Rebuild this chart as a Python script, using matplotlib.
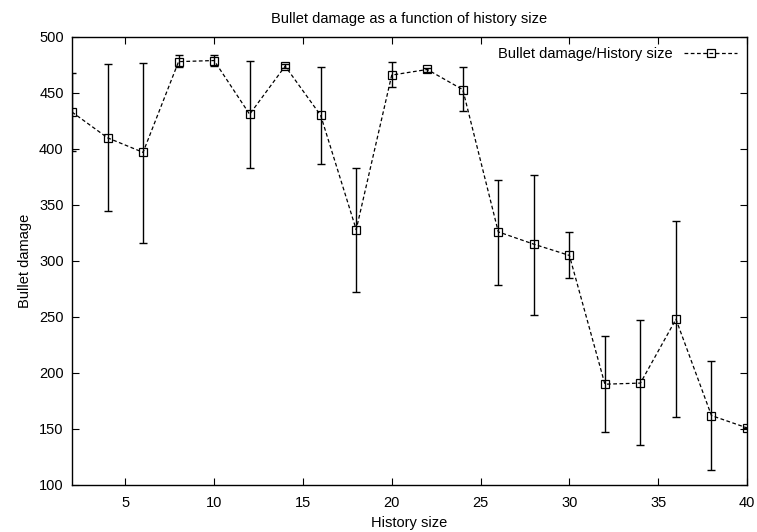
import numpy as np
import matplotlib.pyplot as plt

plt.rcParams['font.family'] = ['Liberation Sans', 'DejaVu Sans']

history_size = [2, 4, 6, 8, 10, 12, 14, 16, 18, 20, 22, 24, 26, 28, 30, 32, 34, 36, 38, 40]
damage = [433, 410, 397, 478, 479, 431, 474, 430, 328, 466, 471, 453, 326, 315, 305, 190, 191, 248, 162, 151]
err_low = [398, 345, 316, 473, 474, 383, 472, 387, 272, 455, 469, 434, 279, 252, 285, 147, 136, 161, 113, 151]
err_high = [468, 476, 477, 484, 484, 479, 476, 473, 383, 478, 472, 473, 372, 377, 326, 233, 247, 336, 211, 151]

x = np.array(history_size)
y = np.array(damage)
yerr = np.array([y - np.array(err_low), np.array(err_high) - y])

fig = plt.figure(figsize=(7.57, 5.32), dpi=100)
ax = fig.add_axes([72 / 757, 47 / 532, 675 / 757, 448 / 532])

ax.errorbar(x, y, yerr=yerr, fmt='none', ecolor='black', elinewidth=1.0,
            capsize=3, capthick=1.0, zorder=2)
ax.plot(x, y, color='black', linestyle=(0, (3, 2)), linewidth=0.9,
         marker='s', markersize=5.5, markerfacecolor='none', markeredgecolor='black',
         markeredgewidth=0.9, label='Bullet damage/History size', zorder=3)

ax.set_xlim(2, 40)
ax.set_ylim(100, 500)
ax.set_xticks([5, 10, 15, 20, 25, 30, 35, 40])
ax.set_yticks([100, 150, 200, 250, 300, 350, 400, 450, 500])
ax.tick_params(direction='in', top=True, right=True, length=5, labelsize=10.5)
ax.tick_params(axis='x', pad=8)
ax.tick_params(axis='y', pad=6)
for s in ax.spines.values():
    s.set_linewidth(1.0)

ax.set_title('Bullet damage as a function of history size', fontsize=10.5, pad=10)
ax.set_xlabel('History size', fontsize=10.5, labelpad=4)
ax.set_ylabel('Bullet damage', fontsize=10.5, labelpad=5)

ax.legend(loc='upper right', frameon=False, markerfirst=False, fontsize=10.5,
          handlelength=3.6, borderaxespad=0.3)

fig.savefig('out.png', dpi=100)
